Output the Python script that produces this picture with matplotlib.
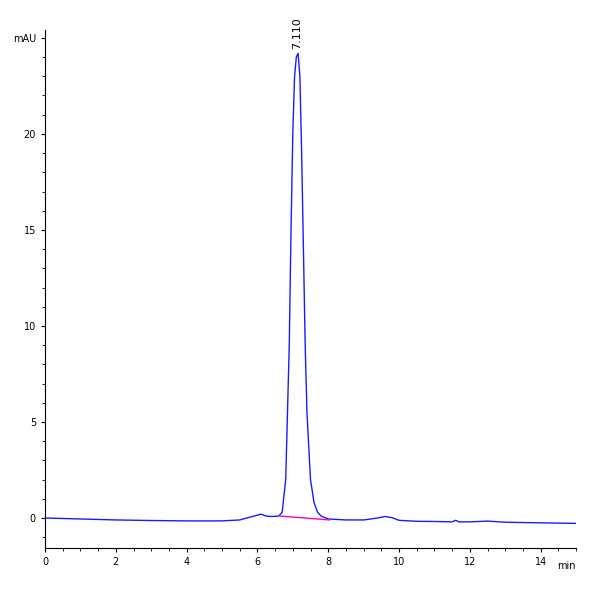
import matplotlib
matplotlib.use("Agg")
import matplotlib.pyplot as plt
from matplotlib.ticker import MultipleLocator, FuncFormatter

times = [0,1,2,3,4,5,5.5,5.8,6.0,6.1,6.25,6.4,6.6,6.7,6.8,6.9,6.95,7.0,7.05,7.1,7.15,7.2,7.25,7.3,7.35,7.4,7.5,7.6,7.7,7.8,8.0,8.5,9.0,9.4,9.6,9.8,10.0,10.5,11,11.5,11.6,11.7,12,12.5,13,14,15]
signal = [0,-0.05,-0.1,-0.13,-0.15,-0.15,-0.1,0.05,0.15,0.2,0.1,0.08,0.1,0.3,2,9,15,20,23,24,24.2,23,19,14,9,5.5,2,0.8,0.3,0.1,-0.05,-0.1,-0.1,0,0.08,0.02,-0.12,-0.17,-0.18,-0.2,-0.12,-0.2,-0.2,-0.16,-0.22,-0.25,-0.28]
base_t = [6.65, 8.05]
base_v = [0.1, -0.1]
peak_rt = 7.110
peak_h = 24.2

fig = plt.figure(figsize=(6, 6), dpi=100)
ax = fig.add_axes([0.075, 0.0867, 0.885, 0.863])
ax.plot(times, signal, color="#1a1aff", lw=1)
ax.plot(base_t, base_v, color="#ff00cc", lw=1)
ax.text(peak_rt, peak_h + 0.2, "7.110", rotation=90, ha="center", va="bottom", fontsize=8)
ax.set_xlim(0, 15)
ax.set_ylim(-1.56, 25.4)
ax.xaxis.set_major_locator(MultipleLocator(2))
ax.xaxis.set_minor_locator(MultipleLocator(0.5))
ax.yaxis.set_major_locator(MultipleLocator(5))
ax.yaxis.set_minor_locator(MultipleLocator(1))
ax.yaxis.set_major_formatter(FuncFormatter(lambda v, p: "mAU" if abs(v - 25) < 1e-6 else f"{v:g}"))
for s in ["top", "right"]:
    ax.spines[s].set_visible(False)
ax.tick_params(labelsize=7, length=3)
ax.tick_params(which="minor", length=2)
ax.text(1.0, -0.035, "min", transform=ax.transAxes, ha="right", va="center", fontsize=7)
fig.savefig("out.png")
